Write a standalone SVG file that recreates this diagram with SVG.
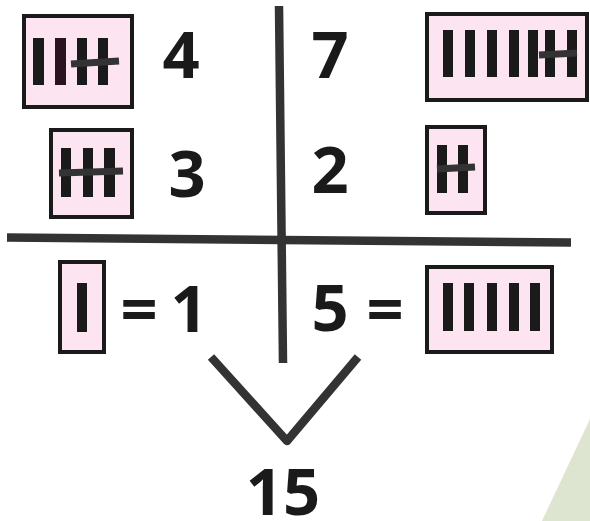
<svg xmlns="http://www.w3.org/2000/svg" width="590" height="521" viewBox="0 0 590 521">
<style>
.box{fill:#fce4f0;stroke:#1a1a1a;stroke-width:4}
.bar{fill:#1a1a1a}
.strike{stroke:#333;stroke-width:7;fill:none}
.num{font-family:"Open Sans","DejaVu Sans",sans-serif;font-weight:700;font-size:65px;fill:#1a1a1a;text-anchor:middle}
.line{stroke:#333;stroke-width:8.5;fill:none}
</style>
<rect width="590" height="521" fill="#fff"/>
<polygon points="590,419 542,521 590,521" fill="#dde4d0"/>
<g id="connectors">
<line class="line" x1="7" y1="237.5" x2="571" y2="242.5"/>
<line class="line" x1="279" y1="6" x2="283" y2="363"/>
<polyline class="line" points="211,357 287,441 358,357" stroke-linejoin="round"/>
</g>
<g id="tally4">
<rect class="box" x="24" y="16" width="108" height="91"/>
<rect class="bar" x="33" y="38" width="11" height="47"/>
<rect x="55" y="38" width="11" height="47" fill="#2b1420"/>
<rect class="bar" x="77" y="38" width="10" height="47"/>
<rect class="bar" x="98" y="38" width="10" height="47"/>
<line class="strike" x1="71" y1="64" x2="119" y2="61"/>
</g>
<g id="num4"><text class="num" x="181" y="78">4</text></g>
<g id="tally3">
<rect class="box" x="51" y="130" width="81" height="87"/>
<rect class="bar" x="61" y="148" width="10" height="49"/>
<rect class="bar" x="83" y="148" width="10" height="49"/>
<rect class="bar" x="104" y="148" width="11" height="49"/>
<line class="strike" x1="59" y1="173" x2="123" y2="171"/>
</g>
<g id="num3"><text class="num" x="187" y="197">3</text></g>
<g id="num7"><text class="num" x="330" y="78">7</text></g>
<g id="tally7">
<rect class="box" x="427" y="14" width="160" height="86"/>
<rect class="bar" x="443" y="30" width="10" height="47"/>
<rect class="bar" x="465" y="30" width="10" height="47"/>
<rect class="bar" x="487" y="30" width="10" height="47"/>
<rect class="bar" x="509" y="30" width="10" height="47"/>
<rect class="bar" x="528" y="30" width="10" height="47"/>
<rect class="bar" x="545" y="30" width="10" height="47"/>
<rect class="bar" x="567" y="30" width="10" height="47"/>
<line class="strike" x1="539" y1="55" x2="577" y2="53"/>
</g>
<g id="num2"><text class="num" x="330" y="193">2</text></g>
<g id="tally2">
<rect class="box" x="427" y="127" width="58" height="86"/>
<rect class="bar" x="437" y="145" width="10" height="48"/>
<rect class="bar" x="458" y="145" width="10" height="48"/>
<line class="strike" x1="437" y1="169" x2="475" y2="167"/>
</g>
<g id="tally1">
<rect class="box" x="60" y="262" width="44" height="90"/>
<rect class="bar" x="77" y="283" width="10" height="49"/>
</g>
<g id="eq1"><text class="num" x="139" y="332">=</text></g>
<g id="num1"><text class="num" x="189" y="332">1</text></g>
<g id="num5"><text class="num" x="330" y="331">5</text></g>
<g id="eq5"><text class="num" x="385" y="332">=</text></g>
<g id="tally5">
<rect class="box" x="427" y="267" width="125" height="85"/>
<rect class="bar" x="443" y="283" width="10" height="48"/>
<rect class="bar" x="464" y="283" width="10" height="48"/>
<rect class="bar" x="487" y="283" width="10" height="48"/>
<rect class="bar" x="509" y="283" width="10" height="48"/>
<rect class="bar" x="530" y="283" width="10" height="48"/>
</g>
<g id="total"><text class="num" x="283" y="515">15</text></g>
</svg>
